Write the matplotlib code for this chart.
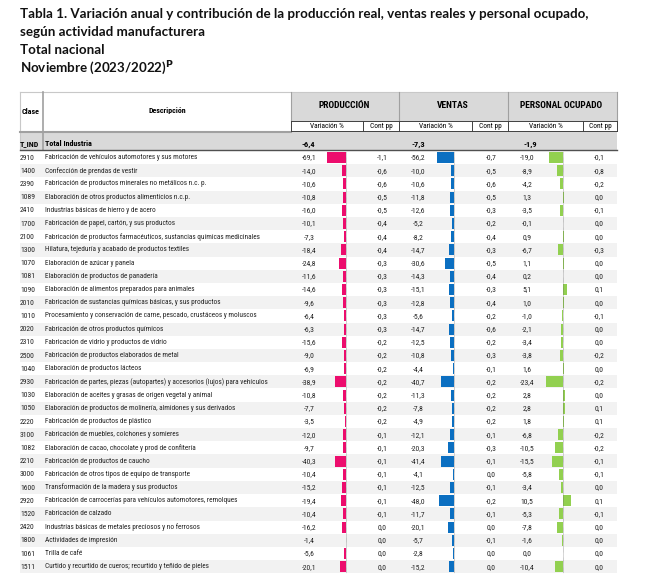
"""Tabla 1 (EMMET): variación anual y contribución, con barras de datos tipo Excel."""
import matplotlib

matplotlib.use("Agg")
import matplotlib.pyplot as plt
from matplotlib import font_manager as fm

# --- datos -------------------------------------------------------------
clase = ["2910", "1400", "2390", "1089", "2410", "1700", "2100", "1300", "1070", "1081",
         "1090", "2010", "1010", "2020", "2310", "2500", "1040", "2930", "1030", "1050",
         "2220", "3100", "1082", "2210", "3000", "1600", "2920", "1520", "2420", "1800",
         "1061", "1511"]
descripcion = [
    "Fabricación de vehículos automotores y sus motores",
    "Confección de prendas de vestir",
    "Fabricación de productos minerales no metálicos n.c. p.",
    "Elaboración de otros productos alimenticios n.c.p.",
    "Industrias básicas de hierro y de acero",
    "Fabricación de papel, cartón, y sus productos",
    "Fabricación de productos farmacéuticos, sustancias químicas medicinales",
    "Hilatura, tejeduría y acabado de productos textiles",
    "Elaboración de azúcar y panela",
    "Elaboración de productos de panadería",
    "Elaboración de alimentos preparados para animales",
    "Fabricación de sustancias químicas básicas, y sus productos",
    "Procesamiento y conservación de carne, pescado, crustáceos y moluscos",
    "Fabricación de otros productos químicos",
    "Fabricación de vidrio y productos de vidrio",
    "Fabricación de productos elaborados de metal",
    "Elaboración de productos lácteos",
    "Fabricación de partes, piezas (autopartes) y accesorios (lujos) para vehículos",
    "Elaboración de aceites y grasas de origen vegetal y animal",
    "Elaboración de productos de molinería, almidones y sus derivados",
    "Fabricación de productos de plástico",
    "Fabricación de muebles, colchones y somieres",
    "Elaboración de cacao, chocolate y prod de confitería",
    "Fabricación de productos de caucho",
    "Fabricación de otros tipos de equipo de transporte",
    "Transformación de la madera y sus productos",
    "Fabricación de carrocerías para vehículos automotores, remolques",
    "Fabricación de calzado",
    "Industrias básicas de metales preciosos y no ferrosos",
    "Actividades de impresión",
    "Trilla de café",
    "Curtido y recurtido de cueros; recurtido y teñido de pieles",
]
prod_var = [-69.1, -14.0, -10.6, -10.8, -16.0, -10.1, -7.3, -18.4, -24.8, -11.6,
            -14.6, -9.6, -6.4, -6.3, -15.6, -9.0, -6.9, -38.9, -10.8, -7.7,
            -3.5, -12.0, -9.7, -40.3, -10.4, -15.2, -19.4, -10.4, -16.2, -1.4,
            -5.6, -20.1]
prod_cont = [-1.1, -0.6, -0.6, -0.5, -0.5, -0.4, -0.4, -0.4, -0.3, -0.3,
             -0.3, -0.3, -0.3, -0.3, -0.2, -0.2, -0.2, -0.2, -0.2, -0.2,
             -0.2, -0.1, -0.1, -0.1, -0.1, -0.1, -0.1, -0.1, 0.0, 0.0,
             0.0, 0.0]
vent_var = [-56.2, -10.0, -10.6, -11.8, -12.6, -5.2, -8.2, -14.7, -30.6, -14.3,
            -15.1, -12.8, -5.6, -14.7, -12.5, -10.8, -4.4, -40.7, -11.3, -7.8,
            -4.9, -12.1, -20.3, -41.4, -4.1, -12.5, -48.0, -11.7, -20.1, -5.7,
            -2.8, -15.2]
vent_cont = [-0.7, -0.5, -0.6, -0.5, -0.3, -0.2, -0.4, -0.3, -0.5, -0.4,
             -0.3, -0.4, -0.2, -0.6, -0.2, -0.3, -0.1, -0.2, -0.2, -0.2,
             -0.2, -0.1, -0.3, -0.1, 0.0, -0.1, -0.2, -0.1, 0.0, -0.1,
             0.0, 0.0]
pers_var = [-19.0, -8.9, -4.2, 1.3, -3.5, -0.1, 0.9, -6.7, 1.1, 0.2,
            5.1, 1.0, -1.0, -2.1, -3.4, -3.8, 1.6, -23.4, 2.8, 2.8,
            1.8, -6.8, -10.5, -15.5, -5.8, -3.4, 10.5, -5.3, -7.8, -1.6,
            0.0, -10.4]
pers_cont = [-0.1, -0.8, -0.2, 0.0, -0.1, 0.0, 0.0, -0.3, 0.0, 0.0,
             0.1, 0.0, -0.1, 0.0, 0.0, -0.2, 0.0, -0.2, 0.0, 0.1,
             0.1, -0.2, -0.2, -0.1, -0.1, 0.0, 0.1, -0.1, 0.0, 0.0,
             0.0, 0.0]
total_var = [-6.4, -7.3, -1.9]  # producción, ventas, personal
grupos = ["PRODUCCIÓN", "VENTAS", "PERSONAL OCUPADO"]

titulo = ["Tabla 1. Variación anual y contribución de la producción real, ventas reales y personal ocupado,",
          "según actividad manufacturera",
          "Total nacional",
          "Noviembre (2023/2022)$^{\\mathbf{P}}$"]

# --- fuentes: se busca una angosta (tipo Arial Narrow) si existe ---------
def _angosta(bold):
    pref = ["Liberation Sans Narrow", "Roboto Condensed", "Open Sans Condensed",
            "DejaVu Sans Condensed", "Noto Sans Condensed"]
    cand = []
    for f in fm.fontManager.ttflist:
        low = (f.name + " " + f.fname).lower()
        if not ("narrow" in low or "condensed" in low or str(f.stretch).endswith("condensed")):
            continue
        if "italic" in low or "oblique" in low or f.style != "normal":
            continue
        w = f.weight if isinstance(f.weight, int) else {"bold": 700, "normal": 400}.get(f.weight, 400)
        if bold != (w >= 600):
            continue
        if "semi" in low or "extra" in low or "light" in low or "black" in low:
            continue
        rank = next((i for i, p in enumerate(pref) if p.lower() in low or p.replace(" ", "").lower() in low),
                    len(pref))
        cand.append((rank, f.fname))
    if cand:
        return fm.FontProperties(fname=sorted(cand)[0][1])
    return fm.FontProperties(family="Liberation Sans", weight="bold" if bold else "normal")


FP = _angosta(False)
FPB = _angosta(True)
NARROW_OK = "narrow" in str(FP.get_file()).lower() or "condensed" in str(FP.get_file()).lower()
_names = {f.name for f in fm.fontManager.ttflist}
TITLE_FONT = "Lato" if "Lato" in _names else "DejaVu Sans"

ROSA, AZUL, VERDE = "#ec0d6d", "#0b6fc1", "#92d050"
GRIS, GRIS_FILA = "#d9d9d9", "#f2f2f2"
FS = 5.2 if NARROW_OK else 4.6   # descripciones
FSN = 5.5 if NARROW_OK else 4.9  # cifras


def fmt(v):
    return f"{v:.1f}".replace(".", ",").replace("-0,0", "0,0")


def txt(x, y, s, size, bold=False, **kw):
    p = (FPB if bold else FP).copy()
    p.set_size(size)
    kw.setdefault("va", "center")
    kw.setdefault("color", "#222222")
    ax.text(x, y, s, fontproperties=p, **kw)


fig = plt.figure(figsize=(6.6, 5.85), dpi=100)
ax = fig.add_axes([0, 0, 1, 1])
ax.set_xlim(0, 660)
ax.set_ylim(585, 0)
ax.axis("off")

# título
for i, t in enumerate(titulo):
    ax.text(20, 14 + i * 18, t, fontsize=9.6, fontweight="bold", family=TITLE_FONT,
            va="center", ha="left", color="#111111")

L, R = 20, 617
x_grp = [291, 399, 508, 617]
x_sub = [363, 472, 583]

# encabezado
ax.add_patch(plt.Rectangle((291, 92), R - 291, 29, color=GRIS, lw=0))
ax.plot([L, R], [92, 92], color="#c8c8c8", lw=0.8)
ax.plot([L, L], [92, 150], color="#c8c8c8", lw=0.8)
ax.plot([43, 43], [92, 150], color="#a0a0a0", lw=1.2)
ax.plot([L, 291], [132, 132], color="#a0a0a0", lw=1.5)
for x in x_grp:
    ax.plot([x, x], [92, 121], color="#a0a0a0", lw=0.8)
ax.plot([291, R], [121, 121], color="#404040", lw=0.7)
ax.plot([291, R], [130.5, 130.5], color="#404040", lw=0.7)
for x in x_grp + x_sub:
    ax.plot([x, x], [121, 130.5], color="#404040", lw=0.7)
txt(31, 111, "Clase", 5.8, True, ha="center", color="black")
txt(167, 111, "Descripción", 5.8, True, ha="center", color="black")
for g, (a, b) in zip(grupos, zip(x_grp[:-1], x_grp[1:])):
    txt((a + b) / 2 - 1, 106, g, 6.8, True, ha="center", color="black")
for a, s, b in zip(x_grp[:-1], x_sub, x_grp[1:]):
    txt((a + s) / 2, 126, "Variación %", 5.3, ha="center", color="black")
    txt((s + b) / 2, 126, "Cont pp", 5.3, ha="center", color="black")

# fila total
ax.add_patch(plt.Rectangle((L, 132), R - L, 18, color=GRIS, lw=0))
ax.plot([L, R], [150, 150], color="#505050", lw=1)
txt(L, 144, "T_IND", 5.8, True, color="black")
txt(45, 144, "Total Industria", 5.8, True, color="black")
for x, v in zip([302, 411, 524], total_var):
    txt(x, 144, fmt(v), 6, True, color="black")

# filas
y0, dy = 157.5, 13.2
ys = [y0 + i * dy for i in range(len(clase))]
for i, y in enumerate(ys):
    if i % 2 == 1:
        ax.add_patch(plt.Rectangle((L, y - dy / 2), R - L, dy, color=GRIS_FILA, lw=0, zorder=0))
    txt(L, y, clase[i], FSN)
    txt(45, y, descripcion[i], FS)

cols = [
    (prod_var, prod_cont, 309, 346, 382, ROSA, 19 / 69.1),
    (vent_var, vent_cont, 418, 454, 491, AZUL, 17.4 / 56.2),
    (pers_var, pers_cont, 527, 563, 599, VERDE, 17 / 23.4),
]
for var, cont, xv, x0, xc, color, esc in cols:
    ax.barh(ys, [v * esc for v in var], left=x0, height=11, color=color, lw=0, zorder=2)
    ax.plot([x0, x0], [ys[0] - 6, ys[-1] + 6], color="#606060", lw=0.4, ls=(0, (1, 1)), zorder=3)
    for y, v, c in zip(ys, var, cont):
        txt(xv, y, fmt(v), FSN, ha="center")
        txt(xc, y, fmt(c), FSN, ha="center")

fig.savefig("out.png", dpi=100)
